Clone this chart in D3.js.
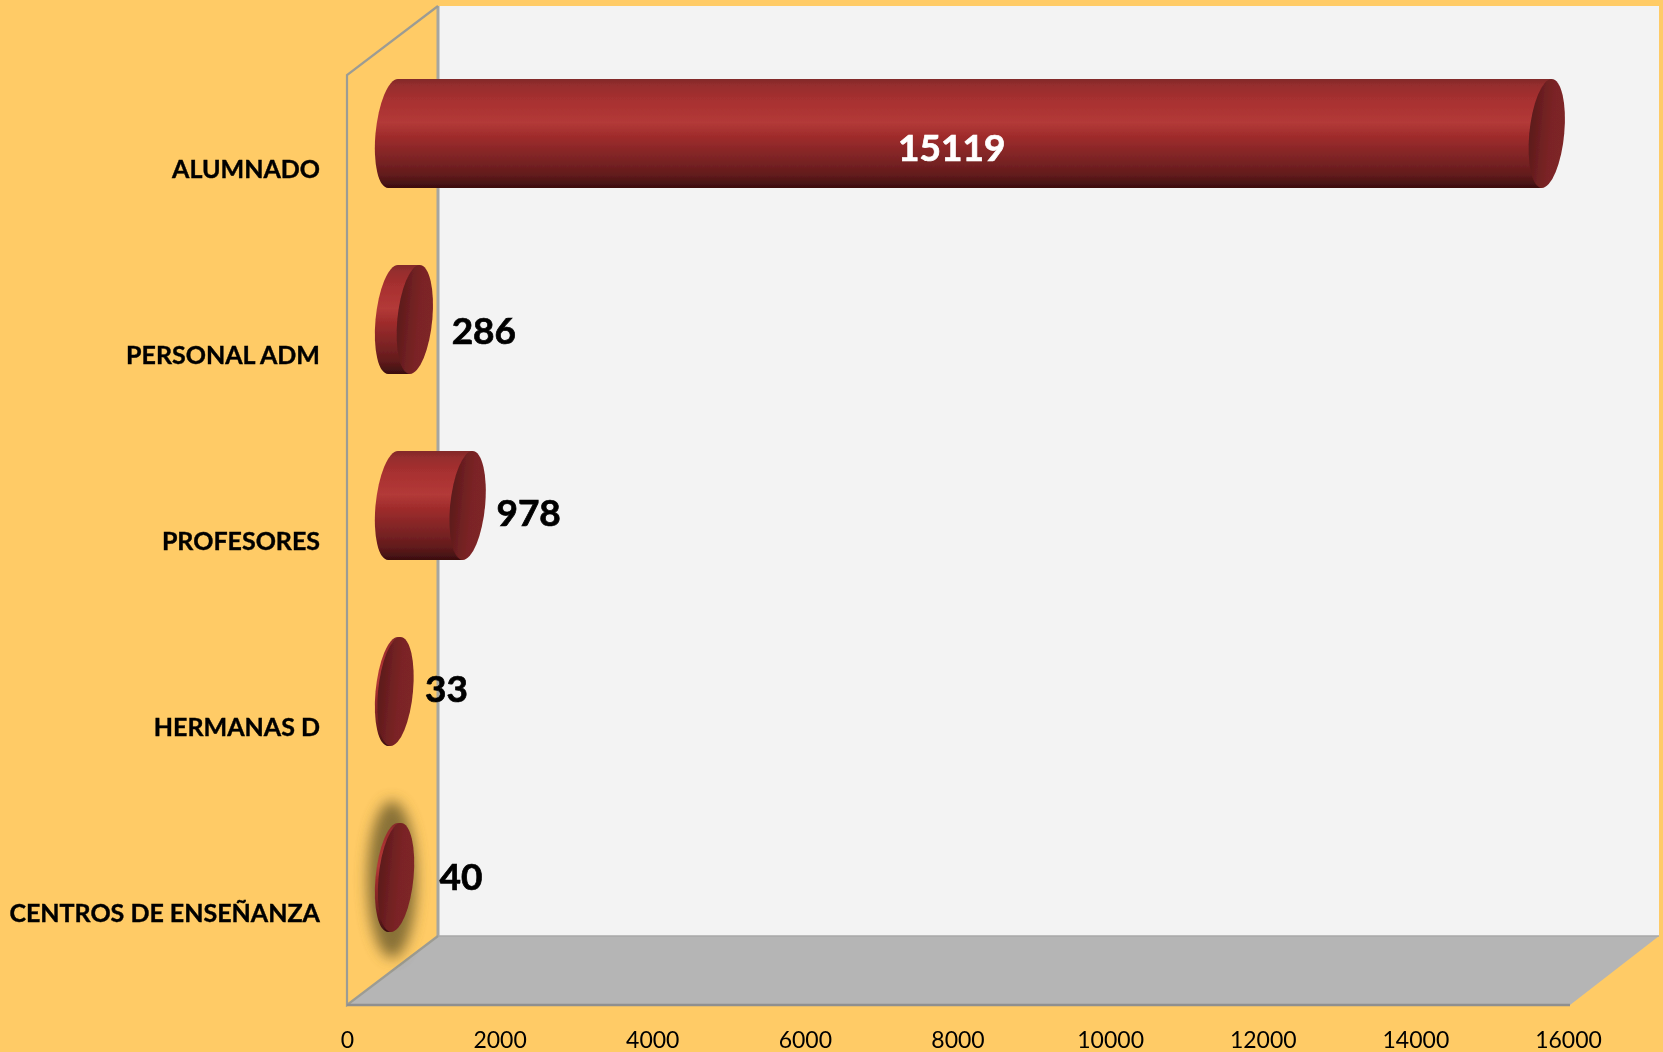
<!DOCTYPE html>
<html><head><meta charset="utf-8">
<script src="https://cdn.jsdelivr.net/npm/d3@7"></script>
<style>
html,body{margin:0;padding:0;background:#FFCB66;overflow:hidden}
svg{display:block}
text{font-family:Lato,"Open Sans",sans-serif;fill:#000}
</style></head><body>
<svg id="chart" width="1663" height="1052"></svg>
<script>
const categories = ["ALUMNADO","PERSONAL ADM","PROFESORES","HERMANAS D","CENTROS DE ENSEÑANZA"];
const values = [15119,286,978,33,40];
const xTicks = [0,2000,4000,6000,8000,10000,12000,14000,16000];

// Hand-placed label offsets from the end of each bar, as in the original
const labelDx = [-595,69,61,51,65];
const labelDy = [15,11.5,8,-2.5,0];

const W=1663,H=1052;
const front={l:347,r:1568,t:75,b:1005,floorR:1570};
const depth={x:91,y:-69};
const x=d3.scaleLinear().domain([0,16000]).range([front.l,front.r]);
const y=d3.scaleBand().domain(categories).range([front.t,front.b]);
const barH=109, rx=17.5, ry=barH/2, skew=-0.09;
const svg=d3.select("#chart");
const defs=svg.append("defs");

const bodyGrad=defs.append("linearGradient").attr("id","body").attr("x1",0).attr("y1",0).attr("x2",0).attr("y2",1);
[[0,"#822b2b"],[.06,"#962d2d"],[.2,"#a83030"],[.4,"#b33a38"],[.52,"#a02c2c"],[.7,"#822526"],[.88,"#621b1c"],[1,"#3a0e0f"]]
 .forEach(([o,c])=>bodyGrad.append("stop").attr("offset",o).attr("stop-color",c));
const capGrad=defs.append("linearGradient").attr("id","cap").attr("x1",0).attr("y1",0).attr("x2",1).attr("y2",0);
[[0,"#5c1a1c"],[.35,"#6f2021"],[.6,"#7a2425"],[1,"#7e2526"]]
 .forEach(([o,c])=>capGrad.append("stop").attr("offset",o).attr("stop-color",c));
defs.append("filter").attr("id","glow").attr("x","-100%").attr("y","-50%").attr("width","300%").attr("height","200%")
  .append("feGaussianBlur").attr("stdDeviation",7);
defs.append("filter").attr("id","soft").attr("x","-5%").attr("y","-5%").attr("width","110%").attr("height","110%")
  .append("feGaussianBlur").attr("stdDeviation",0.6);

const root=svg.append("g").attr("filter","url(#soft)");
root.append("rect").attr("width",W).attr("height",H).attr("fill","#FFCB66");

const bx=front.l+depth.x, by=front.t+depth.y, bb=front.b+depth.y, br=front.floorR+depth.x-2;
// back wall and floor
root.append("rect").attr("x",bx).attr("y",by).attr("width",br-bx).attr("height",bb-by).attr("fill","#F3F3F3");
root.append("path").attr("d",`M${front.l},${front.b}L${bx},${bb}L${br},${bb}L${front.floorR},${front.b}Z`).attr("fill","#B5B5B5");
// wall edges
root.append("path").attr("d",`M${bx},${by}V${bb}`).attr("stroke","#A6A6A0").attr("stroke-width",3).attr("fill","none");
root.append("path").attr("d",`M${bx},${bb}H${br}`).attr("stroke","#A8A8A8").attr("stroke-width",1.5).attr("fill","none");
root.append("path").attr("d",`M${bx},${by}L${front.l},${front.t}V${front.b}L${bx},${bb}`).attr("stroke","#9C9C94").attr("stroke-width",2.2).attr("fill","none");
root.append("path").attr("d",`M${front.l},${front.b}H${front.floorR}`).attr("stroke","#8F8F8F").attr("stroke-width",2.5).attr("fill","none");

// bars: drawn on the mid-depth plane
const barX=v=>x(v)+depth.x/2+.5;
const barY=c=>y(c)+y.bandwidth()/2+depth.y/2;
const bars=root.selectAll("g.bar").data(categories.map((c,i)=>({c,v:values[i],i})).reverse()).join("g").attr("class","bar");
bars.filter(d=>d.c==="CENTROS DE ENSEÑANZA").append("ellipse")
  .attr("cx",d=>barX(d.v)-4).attr("cy",d=>barY(d.c)+2).attr("rx",rx+7).attr("ry",ry+24)
  .attr("fill","#6b5a2c").attr("opacity",.8).attr("filter","url(#glow)");
const inner=bars.append("g").attr("transform",d=>`translate(0,${barY(d.c)}) skewX(${Math.atan(skew)*180/Math.PI})`);
inner.append("path").attr("fill","url(#body)")
  .attr("d",d=>{const a=barX(0),b=barX(d.v);
    return `M${a},${-ry}L${b},${-ry}L${b},${ry}L${a},${ry}A${rx},${ry} 0 0 1 ${a},${-ry}Z`;});
inner.append("ellipse").attr("cx",d=>barX(d.v)).attr("cy",0).attr("rx",rx).attr("ry",ry).attr("fill","url(#cap)");

// axes
const xAxis=root.append("g").attr("transform",`translate(0,${front.b})`)
  .call(d3.axisBottom(x).tickValues(xTicks).tickFormat(d3.format("d")).tickSize(0).tickPadding(27));
xAxis.select(".domain").remove();
xAxis.selectAll("text").attr("font-size",23).style("font-family","Lato,sans-serif").attr("fill","#000");
const yAxis=root.append("g").attr("transform",`translate(${front.l},2)`)
  .call(d3.axisLeft(y).tickSize(0).tickPadding(27));
yAxis.select(".domain").remove();
yAxis.selectAll("text").attr("font-size",25).attr("font-weight",700).style("font-family","Lato,sans-serif")
  .attr("fill","#000").attr("stroke","#000").attr("stroke-width",.4);

// data labels
root.selectAll("text.val").data(values).join("text").attr("class","val")
  .attr("x",(d,i)=>barX(d)+labelDx[i]).attr("y",(d,i)=>barY(categories[i])+labelDy[i]).attr("dy",".35em")
  .attr("text-anchor","middle").attr("font-size",37).attr("font-weight",700)
  .style("fill",(d,i)=>i===0?"#fff":"#000").style("stroke",(d,i)=>i===0?"#fff":"#000").style("stroke-width",.7).text(d=>d);
</script>
</body></html>
